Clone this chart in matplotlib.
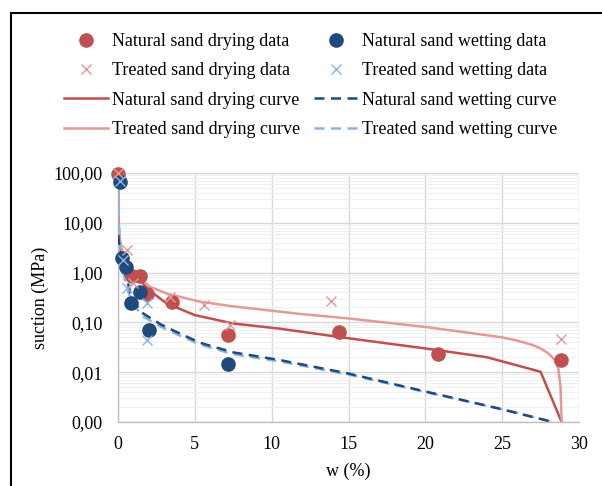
import matplotlib
matplotlib.use("Agg")
import matplotlib.pyplot as plt
from matplotlib.lines import Line2D
from matplotlib.ticker import FixedLocator, FixedFormatter, LogLocator, NullFormatter

plt.rcParams['font.family'] = ['Liberation Serif', 'DejaVu Serif']

# ---- data ----
nd_w = [0.0, 0.9, 1.43, 1.87, 3.49, 7.18, 14.4, 20.8, 28.8]
nd_s = [95, 0.87, 0.87, 0.37, 0.26, 0.056, 0.063, 0.023, 0.0176]

nw_w = [0.13, 0.24, 0.52, 0.83, 1.43, 2.04, 7.18]
nw_s = [65, 2.0, 1.3, 0.25, 0.40, 0.072, 0.0146]

td_w = [0.0, 0.56, 0.98, 3.4, 5.6, 7.29, 13.86, 28.8]
td_s = [100, 2.8, 0.61, 0.33, 0.22, 0.089, 0.27, 0.046]

tw_w = [0.13, 0.3, 0.56, 1.87, 1.87]
tw_s = [70, 1.8, 0.49, 0.24, 0.045]

ndc_w = [0.0, 0.02, 0.05, 0.1, 0.2, 0.4, 0.78, 1.43, 2.0, 3.17, 5.0, 7.5, 10.5, 15, 20, 24, 27.5, 28.87]
ndc_s = [100, 20, 8, 4.5, 2.6, 1.6, 1.12, 0.71, 0.45, 0.24, 0.14, 0.095, 0.075, 0.048, 0.030, 0.020, 0.0102, 0.001]

tdc_w = [0.0, 0.02, 0.1, 0.35, 1.0, 2.08, 3.17, 5.34, 7.5, 11.84, 15, 20, 23, 25, 26, 27, 27.5, 28.0, 28.4, 28.65, 28.8, 28.87]
tdc_s = [100, 12, 5, 2.1, 0.98, 0.52, 0.38, 0.26, 0.21, 0.148, 0.12, 0.081, 0.061, 0.050, 0.043, 0.035, 0.030, 0.024, 0.018, 0.012, 0.005, 0.001]

nwc_w = [0.02, 0.1, 0.25, 0.5, 0.8, 1.2, 1.65, 2.84, 3.82, 5.34, 7.5, 10.5, 15, 20, 25, 28.3]
nwc_s = [5.7, 3.0, 1.8, 0.9, 0.4, 0.22, 0.15, 0.089, 0.064, 0.039, 0.025, 0.0176, 0.0094, 0.0041, 0.0018, 0.001]

twc_w = [0.01, 0.05, 0.15, 0.3, 0.5, 0.8, 1.2, 1.65, 2.84, 3.82, 5.34, 7.5, 10.5, 15, 20, 25, 28.3]
twc_s = [100, 10, 3.0, 1.2, 0.6, 0.32, 0.19, 0.13, 0.08, 0.058, 0.036, 0.023, 0.0165, 0.009, 0.004, 0.0018, 0.001]

y_ticks = [0.001, 0.01, 0.1, 1, 10, 100]
y_labels = ['0,00', '0,01', '0,10', '1,00', '10,00', '100,00']
x_ticks = [0, 5, 10, 15, 20, 25, 30]

# ---- colours ----
c_nd = '#C0504D'
c_nw = '#1F4A7E'
c_td = '#E29A98'
c_tw = '#8DB3E2'

W, H = 602, 486
fig = plt.figure(figsize=(W/100, H/100), dpi=100)
ax = fig.add_axes([118/W, 1-422/H, (579-118)/W, (422-173)/H])

ax.set_yscale('log')
ax.set_xlim(0, 30)
ax.set_ylim(0.001, 100)

lw = 1.8
ax.plot(ndc_w, ndc_s, color=c_nd, lw=lw, label='Natural sand drying curve', zorder=3)
ax.plot(tdc_w, tdc_s, color=c_td, lw=lw, label='Treated sand drying curve', zorder=3)
ax.plot(twc_w, twc_s, color=c_tw, lw=lw, ls=(0, (4, 2.6)), label='Treated sand wetting curve', zorder=3)
ax.plot(nwc_w, nwc_s, color=c_nw, lw=lw, ls=(0, (4, 2.6)), label='Natural sand wetting curve', zorder=3)

ax.plot(nd_w, nd_s, 'o', color=c_nd, ms=9.5, ls='none', label='Natural sand drying data', zorder=4, clip_on=False)
ax.plot(nw_w, nw_s, 'o', color=c_nw, ms=9.5, ls='none', label='Natural sand wetting data', zorder=4, clip_on=False)
ax.plot(td_w, td_s, 'x', color=c_td, ms=7, mew=1.0, ls='none', label='Treated sand drying data', zorder=5, clip_on=False)
ax.plot(tw_w, tw_s, 'x', color=c_tw, ms=7, mew=1.0, ls='none', label='Treated sand wetting data', zorder=5, clip_on=False)

ax.yaxis.set_major_locator(FixedLocator(y_ticks))
ax.yaxis.set_major_formatter(FixedFormatter(y_labels))
ax.yaxis.set_minor_locator(LogLocator(base=10, subs=range(2, 10), numticks=20))
ax.yaxis.set_minor_formatter(NullFormatter())
ax.set_xticks(x_ticks)
ax.set_xticklabels([str(v) for v in x_ticks])

ax.grid(which='major', color='#D9D9D9', lw=1.0, zorder=0)
ax.grid(which='minor', axis='y', color='#F0F0F0', lw=0.8, zorder=0)
ax.set_axisbelow(True)
for s in ['top', 'right']:
    ax.spines[s].set_visible(False)
for s in ['left', 'bottom']:
    ax.spines[s].set_color('#BFBFBF')
    ax.spines[s].set_linewidth(1.0)
ax.tick_params(which='both', length=0, labelsize=13, colors='black')
ax.tick_params(axis='y', pad=11)
ax.tick_params(axis='x', pad=10)

ax.set_xlabel('w (%)', fontsize=13, labelpad=7)
ax.set_ylabel('suction (MPa)', fontsize=13, labelpad=3)

# legend
h, l = ax.get_legend_handles_labels()
d = dict(zip(l, h))
order = ['Natural sand drying data', 'Treated sand drying data',
         'Natural sand drying curve', 'Treated sand drying curve',
         'Natural sand wetting data', 'Treated sand wetting data',
         'Natural sand wetting curve', 'Treated sand wetting curve']
fig.legend([d[k] for k in order], order, loc='upper left',
           bbox_to_anchor=(64/W, 1-33/H), ncol=2, frameon=False, fontsize=13,
           handlelength=2.44, handletextpad=0.22, columnspacing=0.75,
           labelspacing=0.68, borderpad=0, borderaxespad=0)

# outer frame (left and top edges)
fig.add_artist(Line2D([11/W, 11/W], [0, 1-13/H], color='black', lw=1.5, transform=fig.transFigure))
fig.add_artist(Line2D([11/W, 1], [1-13/H, 1-13/H], color='black', lw=1.5, transform=fig.transFigure))

fig.savefig('out.png', dpi=100)
